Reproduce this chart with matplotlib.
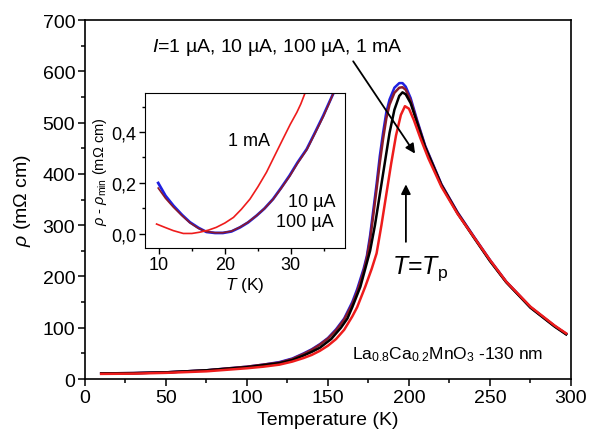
import matplotlib
matplotlib.use("Agg")
import matplotlib.pyplot as plt
from matplotlib.ticker import MultipleLocator, FuncFormatter

plt.rcParams["font.family"] = ["Liberation Sans", "DejaVu Sans"]
plt.rcParams["mathtext.fontset"] = "custom"
plt.rcParams["mathtext.rm"] = "Liberation Sans"
plt.rcParams["mathtext.it"] = "Liberation Sans:italic"

# main panel: resistivity vs temperature, one curve per current
T_blue = [10, 30, 50, 75, 100, 110, 120, 128, 135, 140, 145, 150, 155, 160, 165, 168, 172, 174,
          176, 178, 180, 182, 184, 186, 188, 191, 194, 196, 198, 201, 205, 210, 220, 230, 240,
          250, 260, 275, 290, 297]
rho_blue = [11, 11.5, 13, 17, 24, 28, 33, 40, 50, 58, 68, 80, 97, 118, 150, 175, 215, 240,
            280, 330, 380, 435, 480, 520, 545, 568, 577, 577, 570, 548, 505, 455, 380, 325, 278,
            232, 190, 140, 103, 88]

T_maroon = [10, 30, 50, 75, 100, 110, 120, 128, 135, 140, 145, 150, 155, 160, 165, 168, 172, 174,
            176, 178, 180, 182, 184, 186, 188, 191, 194, 196, 198, 201, 205, 210, 220, 230, 240,
            250, 260, 275, 290, 297]
rho_maroon = [11, 11.5, 13, 17, 24, 28, 32, 39, 49, 57, 67, 79, 95, 116, 146, 170, 210, 236,
              272, 320, 370, 422, 468, 508, 535, 558, 568, 569, 564, 543, 502, 453, 379, 324, 277,
              231, 189, 140, 103, 88]

T_black = [10, 30, 50, 75, 100, 110, 120, 128, 135, 140, 145, 152, 158, 162, 165, 170, 173, 176,
           179, 182, 185, 188, 191, 194, 196, 198, 201, 205, 210, 220, 230, 240, 250, 260, 275,
           290, 297]
rho_black = [11, 11.5, 13, 17, 23, 27, 31, 37, 46, 53, 61, 78, 100, 118, 140, 180, 215, 250,
             300, 360, 420, 480, 525, 552, 559, 555, 538, 500, 452, 378, 323, 276, 230, 189, 139,
             102, 87]

T_red = [10, 30, 50, 75, 100, 110, 120, 128, 135, 140, 145, 150, 155, 160, 165, 168, 173, 177,
         180, 183, 186, 189, 192, 195, 197.5, 200, 203, 207, 212, 220, 230, 240, 250, 260, 275,
         290, 297]
rho_red = [10, 10.5, 12, 15, 21, 24, 28, 34, 41, 47, 55, 65, 78, 96, 122, 140, 180, 215,
           245, 300, 360, 420, 475, 515, 532, 527, 505, 470, 430, 375, 322, 277, 232, 190, 141,
           104, 89]

# inset: rho - rho_min at low temperature
Ti_blue = [9.9, 11, 12.2, 13.5, 14.7, 16, 17.2, 18.5, 19.7, 21, 22.3, 23.5, 24.8, 26,
           27.3, 28.5, 29.8, 31, 32.4, 33.6, 34.9, 35.7, 36.4]
vi_blue = [0.20, 0.15, 0.111, 0.075, 0.046, 0.024, 0.008, 0.004, 0.004, 0.01, 0.026, 0.045,
           0.072, 0.10, 0.137, 0.18, 0.229, 0.28, 0.333, 0.395, 0.464, 0.51, 0.55]
Ti_maroon = [9.9, 11, 12.2, 13.5, 14.7, 16, 17.2, 18.5, 19.7, 21, 22.3, 23.5, 24.8, 26,
             27.3, 28.5, 29.8, 31, 32.4, 33.6, 34.9, 35.7, 36.4]
vi_maroon = [0.18, 0.14, 0.105, 0.072, 0.044, 0.022, 0.009, 0.005, 0.005, 0.011, 0.027,
             0.046, 0.072, 0.10, 0.136, 0.178, 0.226, 0.277, 0.33, 0.392, 0.46, 0.507, 0.55]
Ti_red = [9.65, 11, 12.2, 13.7, 15, 16.2, 17.5, 18.7, 20, 21.3, 22.5, 23.8, 25, 26.3,
          27.5, 28.8, 29.9, 30.9, 31.5, 32.1]
vi_red = [0.039, 0.025, 0.013, 0.002, 0.002, 0.007, 0.015, 0.026, 0.043, 0.065, 0.097,
          0.137, 0.185, 0.242, 0.305, 0.373, 0.43, 0.477, 0.51, 0.55]

fig = plt.figure(figsize=(5.89, 4.35), dpi=100)
ax = fig.add_axes([0.1443, 0.1264, 0.8251, 0.8253])

ax.plot(T_blue, rho_blue, color="#1f1fe0", lw=1.8)
ax.plot(T_maroon, rho_maroon, color="#8b1a2a", lw=1.8)
ax.plot(T_black, rho_black, color="black", lw=1.8)
ax.plot(T_red, rho_red, color="#ee1c1c", lw=1.8)

ax.set_xlim(0, 300)
ax.set_ylim(0, 700)
ax.xaxis.set_major_locator(MultipleLocator(50))
ax.xaxis.set_minor_locator(MultipleLocator(25))
ax.yaxis.set_major_locator(MultipleLocator(100))
ax.yaxis.set_minor_locator(MultipleLocator(50))
ax.tick_params(which="both", direction="out", labelsize=14, width=1.1, pad=2)
ax.tick_params(which="major", length=5)
ax.tick_params(which="minor", length=3)
for s in ax.spines.values():
    s.set_linewidth(1.2)
ax.set_xlabel("Temperature (K)", fontsize=14, labelpad=4)
ax.set_ylabel(r"$\rho$ (m$\Omega$ cm)", fontsize=14, labelpad=7)

ax.text(119, 648, r"$I$=1 µA, 10 µA, 100 µA, 1 mA", fontsize=14, ha="center", va="center")
ax.annotate("", xy=(204.7, 435), xytext=(164.6, 624),
            arrowprops=dict(arrowstyle="-|>", color="black", lw=1.3, mutation_scale=14))
ax.annotate("", xy=(198.1, 385), xytext=(198.1, 262),
            arrowprops=dict(arrowstyle="-|>", color="black", lw=1.3, mutation_scale=14))
ax.text(207, 218, r"$T$=$T_{\rm p}$", fontsize=18, ha="center", va="center")
ax.text(165, 49, r"La$_{0.8}$Ca$_{0.2}$MnO$_3$ -130 nm", fontsize=12.5, ha="left", va="center")

# inset
ins = fig.add_axes([0.2462, 0.4276, 0.3396, 0.3563])
ins.plot(Ti_blue, vi_blue, color="#1f1fe0", lw=2.0)
ins.plot(Ti_maroon, vi_maroon, color="#8b1a2a", lw=1.2)
ins.plot(Ti_red, vi_red, color="#ee1c1c", lw=1.2)
ins.set_xlim(7.9, 38.2)
ins.set_ylim(-0.055, 0.553)
ins.xaxis.set_major_locator(MultipleLocator(10))
ins.xaxis.set_minor_locator(MultipleLocator(5))
ins.yaxis.set_major_locator(MultipleLocator(0.2))
ins.yaxis.set_minor_locator(MultipleLocator(0.1))
ins.yaxis.set_major_formatter(FuncFormatter(lambda v, p: ("%.1f" % v).replace(".", ",")))
ins.tick_params(which="both", direction="out", labelsize=13, width=1.0, pad=2)
ins.tick_params(which="major", length=4)
ins.tick_params(which="minor", length=2.5)
ins.set_xlabel(r"$T$ (K)", fontsize=12.5, labelpad=1)
ins.set_ylabel(r"$\rho$ - $\rho_{\rm min}$ (m$\Omega$ cm)", fontsize=10.5, labelpad=2)
ins.text(23.6, 0.365, "1 mA", fontsize=13, ha="center", va="center")
ins.text(36.7, 0.129, "10 µA", fontsize=13, ha="right", va="center")
ins.text(36.4, 0.047, "100 µA", fontsize=13, ha="right", va="center")

fig.savefig("out.png", dpi=100)
